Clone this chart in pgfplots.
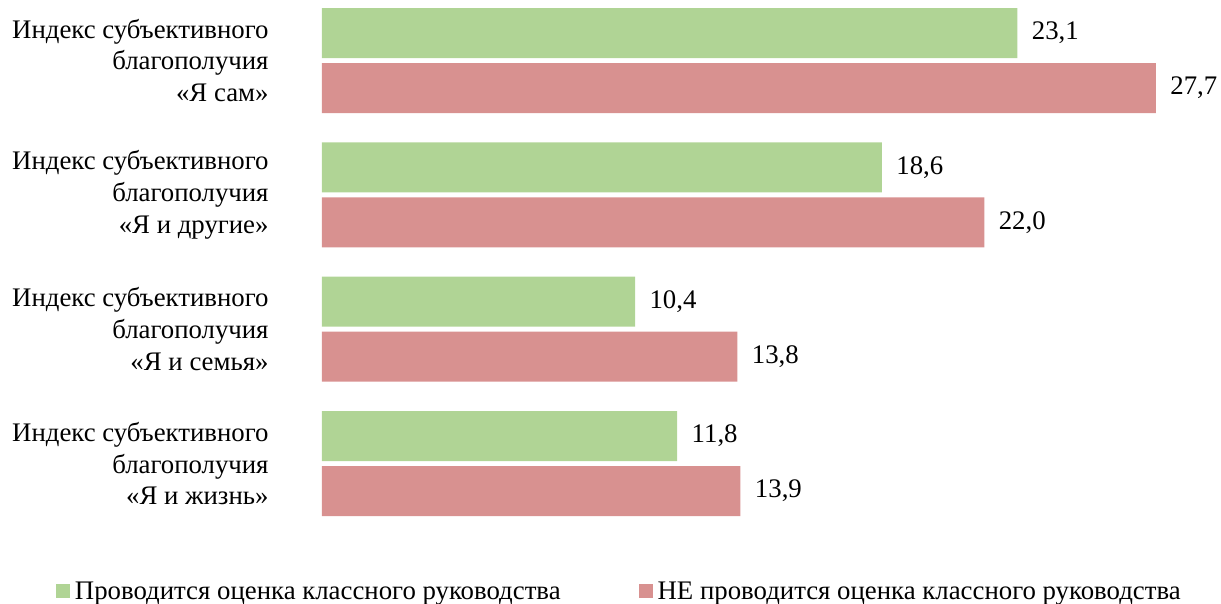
\documentclass[border=0pt]{standalone}
\usepackage{fontspec}
\setmainfont{Liberation Serif}
\usepackage{pgfplots}
\pgfplotsset{compat=1.18}
\definecolor{cgreen}{RGB}{176,212,149}
\definecolor{cred}{RGB}{216,145,144}
\newcommand\cf{\fontsize{26.8bp}{31.8bp}\selectfont}
\begin{document}
\begin{tikzpicture}
\begin{axis}[
  name=a,
  scale only axis,
  width=873bp, height=510.5bp,
  xmin=0, xmax=29, ymin=-0.4, ymax=3.4,
  xbar, bar width=50bp,
  axis line style={draw=none},
  tick style={draw=none},
  xtick=\empty,
  ytick={0,1,2,3},
  yticklabels={{Индекс субъективного\\благополучия\\«Я и жизнь»},
               {Индекс субъективного\\благополучия\\«Я и семья»},
               {Индекс субъективного\\благополучия\\«Я и другие»},
               {Индекс субъективного\\благополучия\\«Я сам»}},
  yticklabel style={align=right, inner sep=0pt, xshift=-49bp, font=\cf},
  clip=false,
  nodes near coords,
  every node near coord/.append style={anchor=west, xshift=11bp, font=\cf, text=black},
  /pgf/number format/.cd, use comma, fixed, fixed zerofill, precision=1, assume math mode=true,
  /pgfplots/.cd,
  legend columns=2,
  legend style={draw=none, fill=none, at={(rel axis cs:-0.3047,-0.1444)}, anchor=west,
    inner sep=0pt, outer sep=0pt, font=\cf,
    /tikz/every even column/.append style={column sep=76bp}},
  legend image code/.code={\fill[#1] (0bp,-6.5bp) rectangle (14bp,7.5bp); \path (17bp,0bp);},
]
\addplot[draw=none, fill=cgreen, bar shift=27.5bp] coordinates {(11.8,0) (10.4,1) (18.6,2) (23.1,3)};
\addplot[draw=none, fill=cred, bar shift=-27.5bp] coordinates {(13.9,0) (13.8,1) (22.0,2) (27.7,3)};
\legend{Проводится оценка классного руководства, НЕ проводится оценка классного руководства}
\end{axis}
\pgfresetboundingbox
\path (a.south west) ++(-322bp,-86.7bp) rectangle ++(1221bp,604bp);
\end{tikzpicture}
\end{document}
